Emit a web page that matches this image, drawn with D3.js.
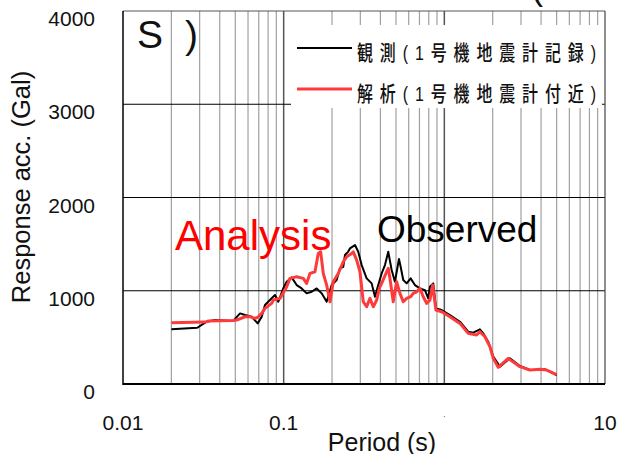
<!DOCTYPE html>
<html><head><meta charset="utf-8">
<script src="https://cdn.jsdelivr.net/npm/d3@7"></script>
<style>
html,body{margin:0;padding:0;background:#fff;}
svg{display:block;font-family:"Liberation Sans",Arial,"Noto Sans CJK JP",sans-serif;}
</style></head>
<body>
<svg id="c" width="617" height="454"></svg>
<script>
// ---- data ----
const xTicks = [0.01, 0.1, 1, 10];
const xTickLabels = ["0.01", "0.1", ".", "10"];
const yTicks = [0, 1000, 2000, 3000, 4000];
const yTickLabels = ["0", "1000", "2000", "3000", "4000"];
const seriesNames = ["観測(1号機地震計記録)", "解析(1号機地震計付近)"];

const obsPeriod = [0.020,0.029,0.0332,0.0374,0.0484,0.0535,0.0574,0.0632,0.0689,0.0730,0.0765,0.0822,0.0883,0.0926,0.0994,0.1044,0.1121,0.1205,0.1294,0.1390,0.1494,0.1605,0.1724,0.1852,0.1990,0.2137,0.2240,0.2349,0.2407,0.2523,0.2585,0.2778,0.2912,0.3058,0.3285,0.3529,0.3700,0.3879,0.4073,0.4270,0.4477,0.4700,0.4927,0.5219,0.5347,0.5550,0.5828,0.6170,0.6561,0.7050,0.7574,0.7937,0.8136,0.853,0.8865,0.9621,1.0835,1.251,1.408,1.513,1.665,1.747,1.876,2.016,2.218,2.560,2.954,3.410,3.935,4.227,4.761,5.0];
const obsAcc = [586,603,668,686,675,757,740,721,650,721,847,900,954,882,1025,1096,1143,1061,1025,972,989,1025,972,882,1061,1115,1240,1257,1383,1420,1454,1490,1418,1275,1133,1079,936,1061,1186,1275,1418,1222,1096,1340,1257,1115,1079,1133,1061,1025,1007,918,1043,1079,811,793,740,668,561,550,586,543,454,293,186,275,193,150,150,157,115,92];

const anaPeriod = [0.020,0.0324,0.0340,0.0484,0.0510,0.0574,0.0617,0.0663,0.0692,0.0730,0.0765,0.0842,0.0862,0.0949,0.1044,0.1094,0.1205,0.1324,0.1390,0.1458,0.1566,0.1642,0.1699,0.1764,0.1852,0.1942,0.2035,0.2187,0.2349,0.2466,0.2649,0.2711,0.2847,0.2984,0.3129,0.3285,0.3444,0.3611,0.3791,0.3935,0.4073,0.4375,0.4477,0.4586,0.4808,0.5050,0.5294,0.5550,0.5828,0.6170,0.6405,0.6724,0.7050,0.7392,0.7760,0.8136,0.8459,0.8865,0.9621,1.0835,1.251,1.408,1.589,1.665,1.789,1.922,2.016,2.165,2.498,2.954,3.410,3.935,4.331,5.0];
const anaAcc = [657,664,675,680,686,721,721,704,718,757,811,865,900,918,1043,1133,1150,1133,1079,1186,1204,1400,1418,1186,1061,882,1096,1186,1311,1364,1400,1418,1329,1204,882,829,918,829,900,1025,1079,1204,1240,1133,882,1096,972,882,918,936,972,989,1025,936,865,900,1061,793,775,721,650,543,525,561,507,400,275,179,275,186,150,157,150,100];

// ---- layout ----
const svg = d3.select("#c");
const L = 123, R = 605, T = 11, B = 384;
const x = d3.scaleLog().domain([0.01, 10]).range([L, R]);
const y = d3.scaleLinear().domain([0, 4000]).range([B, T]);

// minor vertical grid
const minor = [];
[0.01, 0.1, 1].forEach(d => { for (let k = 2; k <= 9; k++) minor.push(k * d); });
svg.append("g").selectAll("line").data(minor).join("line")
  .attr("x1", d => x(d)).attr("x2", d => x(d)).attr("y1", T).attr("y2", B)
  .attr("stroke", "#a0a0a0").attr("stroke-width", 1.2);
// decade lines
svg.append("g").selectAll("line").data([0.1, 1]).join("line")
  .attr("x1", d => x(d)).attr("x2", d => x(d)).attr("y1", T).attr("y2", B)
  .attr("stroke", "#555").attr("stroke-width", 1.5);
// horizontal grid
svg.append("g").selectAll("line").data(yTicks.filter(v => v > 0 && v < 4000)).join("line")
  .attr("x1", L).attr("x2", R).attr("y1", d => y(d)).attr("y2", d => y(d))
  .attr("stroke", "#000").attr("stroke-width", 1);

// frame
svg.append("line").attr("x1", L).attr("x2", R).attr("y1", T).attr("y2", T).attr("stroke", "#555").attr("stroke-width", 1);
svg.append("line").attr("x1", R).attr("x2", R).attr("y1", T).attr("y2", B).attr("stroke", "#444").attr("stroke-width", 1.2);
svg.append("line").attr("x1", L).attr("x2", L).attr("y1", T).attr("y2", B + 1).attr("stroke", "#000").attr("stroke-width", 1.5);
svg.append("line").attr("x1", L).attr("x2", R).attr("y1", B).attr("y2", B).attr("stroke", "#000").attr("stroke-width", 2);

// legend box (white, covers grid)
svg.append("rect").attr("x", 291).attr("y", 25).attr("width", 311).attr("height", 83).attr("fill", "#fff");

// curves
const line = d3.line().x(d => x(d[0])).y(d => y(d[1]));
const obs = obsPeriod.map((p, i) => [p, obsAcc[i]]);
const ana = anaPeriod.map((p, i) => [p, anaAcc[i]]);
svg.append("path").attr("d", line(obs)).attr("fill", "none").attr("stroke", "#000").attr("stroke-width", 2).attr("stroke-linejoin", "round");
svg.append("path").attr("d", line(ana)).attr("fill", "none").attr("stroke", "#ff3a3a").attr("stroke-width", 3).attr("stroke-linejoin", "round");

// legend
const legY = [48, 89], legCol = ["#000", "#ff3a3a"], legW = [2, 3];
const sx = 0.76;
seriesNames.forEach((n, i) => {
  svg.append("line").attr("x1", 297).attr("x2", 352).attr("y1", legY[i]).attr("y2", legY[i])
    .attr("stroke", legCol[i]).attr("stroke-width", legW[i]);
  svg.append("text").attr("transform", `translate(357,${legY[i] + 12}) scale(${sx},1)`)
    .attr("font-size", 21).attr("font-weight", 500).attr("fill", "#111")
    .attr("textLength", 239 / sx).attr("lengthAdjust", "spacing").text(n);
});

// y tick labels
svg.append("g").selectAll("text").data(yTicks).join("text")
  .attr("x", 95).attr("y", d => y(d) + 15).attr("text-anchor", "end")
  .attr("font-size", 21).attr("fill", "#111").text((d, i) => yTickLabels[i]);
// x tick labels
svg.append("g").selectAll("text").data(xTicks).join("text")
  .attr("x", d => x(d)).attr("y", (d, i) => xTickLabels[i] === "." ? 417 : 430).attr("text-anchor", "middle")
  .attr("font-size", (d, i) => xTickLabels[i] === "." ? 8 : 21).attr("fill", "#111").text((d, i) => xTickLabels[i]);

// axis titles
svg.append("text").attr("transform", "translate(30,187) rotate(-90)").attr("text-anchor", "middle")
  .attr("font-size", 25.5).attr("fill", "#111").text("Response acc. (Gal)");
svg.append("text").attr("x", 382).attr("y", 451).attr("text-anchor", "middle")
  .attr("font-size", 25).attr("fill", "#111").text("Period (s)");

// annotations
svg.append("text").attr("x", 137).attr("y", 48).attr("font-size", 39).attr("fill", "#111").text("S");
svg.append("text").attr("x", 185).attr("y", 48).attr("font-size", 39).attr("fill", "#111").text(")");
svg.append("text").attr("x", 531).attr("y", -1).attr("font-size", 36).attr("fill", "#111").text("(");
svg.append("text").attr("x", 175).attr("y", 250).attr("font-size", 42).attr("fill", "#ff0000").text("Analysis");
svg.append("text").attr("x", 377).attr("y", 242).attr("font-size", 37).attr("fill", "#000").text("Observed");
</script>
</body></html>
